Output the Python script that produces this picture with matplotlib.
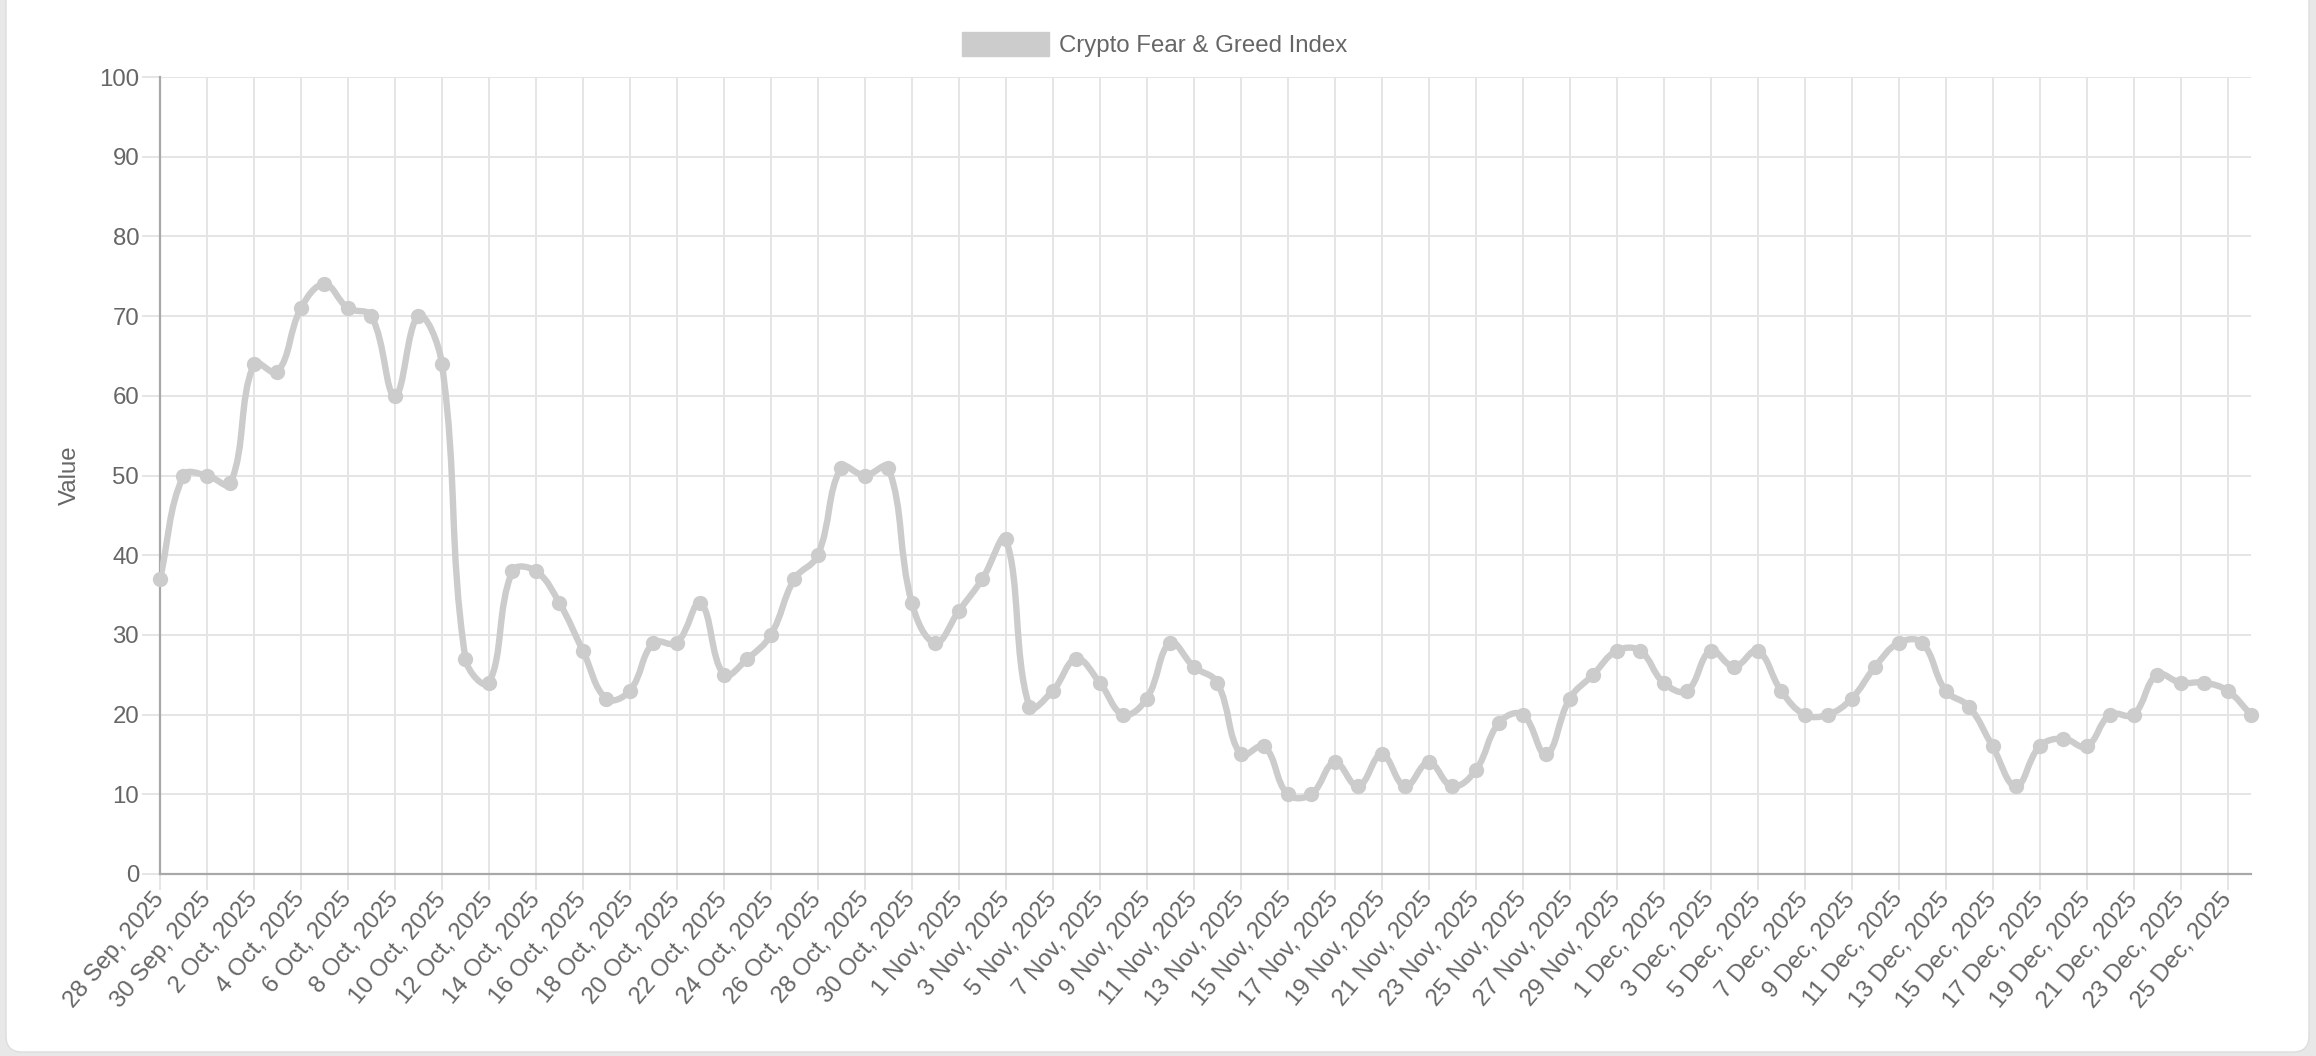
import numpy as np
import pandas as pd
import matplotlib
matplotlib.use("Agg")
import matplotlib.pyplot as plt
from matplotlib.path import Path
from matplotlib.patches import PathPatch, FancyBboxPatch, Patch

# daily dates, 28 Sep 2025 .. 26 Dec 2025
dates = pd.date_range("2025-09-28", "2025-12-26", freq="D")
labels = [f"{d.day} {d.strftime('%b')}, {d.year}" for d in dates]

# Crypto Fear & Greed Index values
values = [37, 50, 50, 49, 64, 63, 71, 74, 71, 70, 60, 70, 64, 27, 24, 38,
          38, 34, 28, 22, 23, 29, 29, 34, 25, 27, 30, 37, 40, 51, 50, 51,
          34, 29, 33, 37, 42, 21, 23, 27, 24, 20, 22, 29, 26, 24, 15, 16,
          10, 10, 14, 11, 15, 11, 14, 11, 13, 19, 20, 15, 22, 25, 28, 28,
          24, 23, 28, 26, 28, 23, 20, 20, 22, 26, 29, 29, 23, 21, 16, 11,
          16, 17, 16, 20, 20, 25, 24, 24, 23, 20]

series_name = "Crypto Fear & Greed Index"
y_ticks = list(range(0, 101, 10))

line_col = "#cccccc"
text_col = "#666666"
grid_col = "#e5e5e5"
axis_col = "#a8a8a8"
fs = 17.3

W, H = 2316, 1056
fig = plt.figure(figsize=(W / 100, H / 100), dpi=100)
fig.patch.set_facecolor("#e8e8e8")

# white card
card = FancyBboxPatch((6, 4), 2303, H + 60, boxstyle="round,pad=0,rounding_size=16",
                      transform=None, facecolor="white", edgecolor="#dddddd",
                      linewidth=1, zorder=-10)
fig.patches.append(card)

left, right, bottom, top = 160 / W, 2251 / W, 1 - 874 / H, 1 - 77 / H
ax = fig.add_axes([left, bottom, right - left, top - bottom])
ax.set_facecolor("none")

x = np.arange(len(values))
ax.set_xlim(0, len(values) - 1)
ax.set_ylim(0, 100)

# pixel scale used for chart.js style spline (tension 0.4)
sx = (right - left) * W / (len(values) - 1)
sy = (top - bottom) * H / 100.0


def spline_path(xs, ys, t=0.4):
    px = np.asarray(xs, float) * sx
    py = np.asarray(ys, float) * sy
    n = len(px)
    cp_prev, cp_next = [], []
    for i in range(n):
        p = max(i - 1, 0)
        q = min(i + 1, n - 1)
        d01 = np.hypot(px[i] - px[p], py[i] - py[p])
        d12 = np.hypot(px[q] - px[i], py[q] - py[i])
        tot = d01 + d12
        s01 = d01 / tot if tot else 0
        s12 = d12 / tot if tot else 0
        fa, fb = t * s01, t * s12
        cp_prev.append((px[i] - fa * (px[q] - px[p]), py[i] - fa * (py[q] - py[p])))
        cp_next.append((px[i] + fb * (px[q] - px[p]), py[i] + fb * (py[q] - py[p])))
    verts = [(px[0], py[0])]
    codes = [Path.MOVETO]
    for i in range(n - 1):
        verts += [cp_next[i], cp_prev[i + 1], (px[i + 1], py[i + 1])]
        codes += [Path.CURVE4] * 3
    verts = [(vx / sx, min(max(vy / sy, 0), 100)) for vx, vy in verts]
    return Path(verts, codes)


ax.add_patch(PathPatch(spline_path(x, values), facecolor="none", edgecolor=line_col,
                       lw=4.6, capstyle="round", joinstyle="round", zorder=3))
ax.plot(x, values, "o", ms=10, color=line_col, clip_on=False, zorder=4)

# grid and axes
ax.set_xticks(x[::2])
ax.set_xticklabels(labels[::2], rotation=50, ha="right", va="center",
                   rotation_mode="anchor", color=text_col, fontsize=fs,
                   family="Liberation Sans")
ax.set_yticks(y_ticks)
ax.set_yticklabels([str(v) for v in y_ticks], color=text_col, fontsize=fs,
                   family="Liberation Sans")
ax.grid(True, color=grid_col, lw=1.44, zorder=0)
ax.set_axisbelow(True)
ax.tick_params(axis="x", length=11.5, width=1.44, color=grid_col, pad=4)
ax.tick_params(axis="y", length=13, width=1.44, color=grid_col, pad=2)
for s in ["top", "right"]:
    ax.spines[s].set_visible(False)
for s in ["left", "bottom"]:
    ax.spines[s].set_color(axis_col)
    ax.spines[s].set_linewidth(1.6)

ax.set_ylabel("Value", color=text_col, fontsize=fs, family="Liberation Sans")
ax.yaxis.set_label_coords(-0.038, 0.5)

fig.legend(handles=[Patch(facecolor=line_col, edgecolor=line_col, label=series_name)],
           loc="center", bbox_to_anchor=(0.4985, 1 - 44.5 / H), frameon=False,
           handlelength=3.6, handleheight=1.2, handletextpad=0.42,
           prop={"family": "Liberation Sans", "size": fs}, labelcolor=text_col)

fig.savefig("out.png", dpi=100, facecolor=fig.get_facecolor())
